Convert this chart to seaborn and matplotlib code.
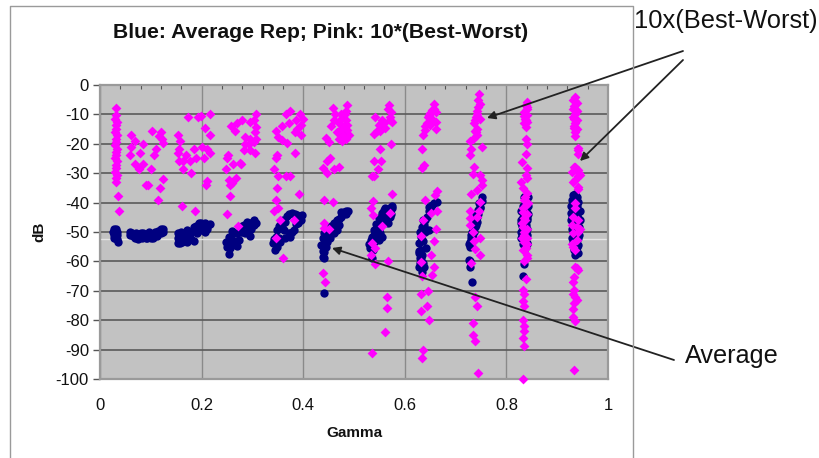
import matplotlib
matplotlib.use('Agg')
import matplotlib.pyplot as plt
from matplotlib.lines import Line2D
from matplotlib.ticker import MultipleLocator
import pandas as pd
import seaborn as sns

# 粉色点 10*(Best-Worst)，按 gamma 分组
pink_gamma = [
    .032, .032, .030, .033, .031, .032, .030, .033, .031, .032, .030, .033, .031, .032, .030, .033, .031, .032, .030, .033, .031, .032, .035, .037,
    .062, .068, .061, .085, .078, .060, .068, .085, .076, .102, .116, .120, .122, .125, .110, .107, .100, .125, .091, .094, .118, .114,
    .154, .158, .155, .154, .155, .164, .177, .170, .185, .164, .180, .189, .205, .200, .211, .216, .216, .207, .173, .193, .199, .216, .211, .209, .162, .187,
    .257, .266, .270, .280, .307, .303, .296, .307, .305, .286, .307, .296, .303, .286, .293, .283, .296, .306, .252, .250, .262, .275, .278, .249, .254, .267, .260, .256, .255, .250, .271,
    .375, .366, .393, .399, .385, .372, .359, .395, .383, .388, .347, .396, .350, .359, .368, .384, .348, .346, .343, .350, .366, .375, .348, .392, .346, .350, .342, .355, .382, .346, .361,
    .459, .486, .484, .462, .474, .484, .487, .454, .477, .467, .487, .444, .470, .484, .451, .477, .453, .446, .439, .446, .461, .470, .441, .459, .441, .440, .451, .439, .443,
    .470, .480, .478, .482, .460, .470, .490, .475,
    .569, .572, .542, .575, .556, .549, .562, .552, .539, .572, .552, .539, .554, .548, .536, .540, .575, .537, .534, .538, .571, .556, .536, .542, .534, .542, .567, .565, .565, .561, .536,
    .567, .570, .553, .560, .570, .546,
    .657, .653, .648, .661, .661, .644, .661, .639, .636, .634, .638, .633, .663, .639, .651, .663, .635, .661, .631, .657, .651, .631, .658, .654, .633, .646, .631, .643, .631, .648, .636, .634,
    .658, .650, .645, .655, .650, .640, .660,
    .747, .749, .743, .749, .740, .736, .742, .743, .735, .729, .751, .730, .729, .736, .735, .749, .751, .751, .743, .730, .748, .729, .746, .729, .743, .729, .735, .749, .736, .738, .748, .730, .738, .742, .734, .735, .738, .745,
    .745, .745, .742, .738, .739, .740,
    .840, .838, .841, .835, .841, .836, .841, .838, .835, .838, .840, .839, .830, .841, .838, .828, .841, .832, .841, .835, .838, .832, .834, .832, .835, .834, .838, .841, .838, .832, .835, .832, .834, .832, .835, .834, .832, .834, .832,
    .840, .835, .838, .836, .842, .832, .840, .836, .830, .840, .834, .830, .840, .840, .832, .840, .834,
    .935, .936, .934, .937, .935, .933, .936, .934, .936, .935, .940, .941, .933, .943, .935, .941, .935, .932, .939, .932, .939, .932, .935, .939, .933, .931, .933, .935, .933, .932, .935, .933,
    .932, .938, .932, .938, .932, .938, .934, .938, .940, .935, .940, .930, .945, .940, .932, .940, .935, .940, .930, .945, .940, .930, .935, .940, .932, .938, .932,
]
pink_db = [
    -7.7, -10.3, -11.4, -12.5, -13.7, -14.8, -15.9, -17, -18.2, -19.3, -20.4, -21.6, -22.7, -23.9, -25, -26, -27.3, -28.4, -29.5, -30.6, -31.8, -33, -37.8, -43,
    -16.9, -19, -21, -19.9, -23, -23.8, -26.9, -26.9, -28.7, -15.8, -17.2, -16, -18.2, -19.7, -21.8, -23.9, -28.7, -31.9, -33.9, -33.9, -35, -39,
    -16.9, -19, -21.6, -23, -26, -26, -26, -23.8, -21.7, -28.7, -30, -24.9, -25, -21, -21.7, -23, -17, -14.7, -10.9, -10.9, -10.6, -10, -32.7, -34, -41, -43,
    -14, -15.8, -12.8, -12, -10, -12, -12.6, -14.3, -16, -17.6, -18.2, -18.2, -19.3, -19.9, -20, -22, -22.2, -23, -23.9, -25, -26.9, -26.5, -27, -28.7, -32.4, -31.8, -33.5, -34, -37.8, -44, -48,
    -8.8, -10, -10, -11.4, -12, -12.8, -14, -13.7, -16, -14.8, -15.7, -17, -17.6, -18.8, -19.7, -23, -23.9, -25, -28.7, -30.8, -30.8, -30.8, -35, -37, -39, -42, -43, -46, -46, -52, -59,
    -7.7, -6.9, -9, -10, -11.4, -12, -13.7, -14, -14.8, -16, -15.4, -17.9, -18.2, -18.2, -19.3, -19, -25, -26, -28.2, -30, -28.7, -28, -39, -39.7, -46.8, -48.8, -49, -64, -67,
    -13, -14, -17, -10, -12, -15.5, -17, -10,
    -6.9, -9.2, -10.9, -12.6, -12, -13.7, -14.5, -15.6, -16.5, -19.9, -21.8, -25.8, -25.8, -28.7, -30.8, -30.8, -37, -39.4, -42, -44.2, -43.4, -48, -53.8, -55.5, -57.8, -61, -60, -72, -76, -84, -91,
    -8, -11, -13, -13, -12, -15.5,
    -6.3, -8.6, -10.3, -9.2, -12.6, -13, -14.8, -15.2, -17, -21.6, -27.3, -28.2, -36, -39, -43.7, -42.8, -46, -48.9, -51.2, -53.2, -57.8, -60.3, -61.8, -64.6, -65, -70, -71, -75, -77, -80, -90, -93,
    -8, -9.5, -11, -12, -13.5, -14, -37.5,
    -3, -6.3, -8.8, -11.4, -10.9, -13, -14.8, -17, -18.2, -19, -21, -21.7, -23.8, -28, -30.3, -30.7, -32.4, -34, -35.7, -37, -39.7, -43, -43, -45.4, -44.8, -47.6, -49.9, -52, -53, -55.8, -57.8, -60.4, -72, -75, -80.9, -85, -87.2, -98,
    -5, -7.5, -10, -12, -15.5, -16,
    -5.8, -6.9, -8, -9.2, -10.3, -11.4, -12.6, -14.3, -13, -18.2, -19.9, -23.6, -26.1, -28.4, -30.7, -32.9, -31.8, -35.2, -36.9, -39.1, -40.8, -43.1, -45.4, -48.2, -51, -53.3, -55.5, -57.8, -66, -69.7, -71, -73.6, -75.3, -79.9, -81.9, -83.8, -85.9, -88.9, -100,
    -7.5, -10.5, -12, -38, -40, -42, -44, -46, -47, -49, -50, -52, -52, -54, -56, -59, -60,
    -4, -5.5, -7, -8.5, -10, -11.5, -13, -14.5, -16, -17.5, -21.3, -23.5, -27.8, -30, -32.4, -34.6, -40.3, -44.8, -48.2, -50.5, -52.7, -55, -61.8, -62.3, -65.2, -67, -69.7, -72, -74.2, -76.2, -80.4, -96.8,
    -5, -6, -8, -9, -11, -12, -14, -15, -22, -28, -29, -29.5, -30.5, -31, -33, -35.5, -42, -46, -47.5, -49, -50, -54, -56, -63, -71, -73, -79,
]

# 蓝色点 Average Rep
blue_gamma = [
    .028, .032, .028, .031, .027, .033, .029, .033, .036, .030, .026, .030, .034, .027,
    .059, .060, .064, .068, .072, .072, .078, .082, .088, .090, .094, .096, .100, .100, .105, .110, .112, .117, .120, .125, .125, .120,
    .063, .070, .080, .085, .075, .092, .105, .108, .115,
    .153, .153, .153, .162, .172, .186, .162, .172, .178, .185, .191, .198, .194, .204, .216, .207, .198, .207,
    .158, .165, .180, .168, .160, .175, .182, .188, .200, .212, .210, .158,
    .254, .250, .249, .254, .260, .250, .260, .270, .273, .280, .286, .283, .293, .296, .303, .307, .290, .296, .270, .303,
    .255, .258, .265, .262, .275, .280, .288, .298, .300,
    .344, .341, .346, .349, .355, .361, .369, .378, .388, .398, .395, .385, .382, .372, .375, .365, .355, .362, .365, .359, .346, .349,
    .343, .352, .358, .373, .383, .393, .390, .378, .352,
    .440, .438, .441, .436, .444, .438, .447, .441, .451, .457, .464, .467, .474, .480, .488, .484, .470, .461, .474, .466,
    .440, .442, .445, .450, .455, .460, .470, .478, .485, .438, .440, .447, .452,
    .572, .562, .575, .556, .549, .543, .571, .566, .559, .552, .543, .536, .549, .556, .533, .531, .536, .539, .540, .569,
    .567, .560, .553, .548, .543, .550, .545, .540, .535, .538, .530, .572, .560, .575,
    .663, .654, .651, .644, .636, .634, .643, .648, .632, .628, .631, .641, .629, .628, .634, .638, .630, .634,
    .658, .648, .640, .638, .630, .635, .628, .632, .627, .636, .648, .640,
    .751, .746, .744, .742, .740, .730, .729, .735, .729, .726, .728, .732, .748, .743, .738,
    .752, .748, .745, .741, .737, .733, .730, .727, .736, .728, .740,
    .839, .838, .841, .828, .838, .832, .841, .828, .838, .830, .838, .828, .835, .841, .835, .832,
    .835, .843, .832, .842, .830, .842, .829, .840, .830, .840, .830, .840, .832, .840, .836, .828,
    .935, .930, .940, .932, .940, .930, .940, .933, .943, .935, .940, .932, .939, .935,
    .932, .938, .928, .938, .945, .928, .938, .945, .932, .928, .940, .930, .942, .930, .940, .933, .940,
]
blue_db = [
    -49, -49, -50, -50.5, -51, -51, -52, -52.3, -53.4, -50, -50, -49.5, -50, -52,
    -50, -51, -51.5, -52, -51, -52, -51.3, -52, -51, -52, -51, -50, -52, -50.8, -51, -50.5, -51.4, -50, -49, -49, -50, -50.5,
    -50.3, -50.5, -50.5, -50.5, -52.3, -52.2, -52, -49.9, -49.5,
    -50.5, -52, -53.6, -53.3, -53.3, -53, -51, -49.3, -50.5, -48.2, -50.5, -49.3, -47, -48.2, -47.3, -49.9, -46.8, -47,
    -52, -52.5, -52.5, -50.5, -50, -51, -49.5, -48, -48.5, -47.5, -49, -53.6,
    -57.5, -55, -53.3, -51.6, -49.7, -53.8, -54.4, -54.8, -52.7, -49.9, -50.5, -47.6, -48.2, -47, -46, -47, -46.5, -51.4, -50.5, -47.6,
    -55.5, -52.5, -53, -50.5, -50, -48, -47.5, -49, -47,
    -56, -53.8, -51.6, -49.3, -47.6, -46, -44.5, -43.7, -44.2, -44.2, -46, -47.3, -49.3, -50.5, -51.6, -52.1, -53.3, -49.3, -46.5, -48.2, -53.3, -55,
    -52.5, -48, -46.8, -44, -43.8, -44.5, -47, -50, -52,
    -70.9, -58.6, -56.7, -54.4, -55, -52.1, -53.3, -50.5, -51.6, -49.9, -47.6, -46, -44.8, -43.1, -42.8, -43.9, -47.6, -50.5, -43.1, -49.3,
    -52, -53.5, -51, -50, -48, -47, -45.5, -44, -43, -56.5, -59, -50.5, -52,
    -41.4, -42, -41.2, -43.7, -45.4, -47.3, -44.8, -47, -42.5, -50.5, -50.5, -51.6, -52.7, -51.6, -52.7, -55.5, -59, -49.3, -53.3, -43,
    -43.5, -44.5, -46, -48, -49, -49.5, -52, -51, -53.5, -56, -54, -44, -47, -42,
    -39.7, -40.8, -42.5, -44.8, -45.9, -48.2, -49.3, -49.3, -51.6, -53.8, -56, -55.5, -59, -61.8, -63.5, -61.8, -60.6, -57.8,
    -40, -43, -46, -47.5, -50, -53, -56.5, -59, -57, -60.5, -41.5, -50,
    -38, -40.3, -42.5, -44.8, -47.6, -51, -53.3, -52.1, -55, -59.5, -61.8, -66.9, -41.4, -46.5, -48.2,
    -39.5, -42, -44, -46, -46.5, -50, -52, -54, -50, -60, -44,
    -37.4, -39.1, -40.3, -43, -42.5, -44.8, -45.4, -47, -47.6, -49.9, -50.5, -52.1, -53.3, -53.8, -61, -65,
    -38, -38, -41, -41, -43, -44, -46, -46, -48, -49, -51, -51, -54, -54, -55.5, -50,
    -37, -39, -39.7, -42, -42.5, -44.8, -45.4, -47.6, -48.2, -50.5, -52.1, -53.3, -55, -57.8,
    -37.5, -38, -41, -41, -43, -43.5, -44, -46, -47, -46, -49, -49, -51, -52, -54.5, -56, -57,
]

x_ticks = [0, 0.2, 0.4, 0.6, 0.8, 1]
x_labels = ['0', '0.2', '0.4', '0.6', '0.8', '1']
y_ticks = [0, -10, -20, -30, -40, -50, -60, -70, -80, -90, -100]
y_labels = ['0', '-10', '-20', '-30', '-40', '-50', '-60', '-70', '-80', '-90', '-100']

sns.set_theme(style='white')
plt.rcParams['font.family'] = ['Liberation Sans', 'DejaVu Sans']

W, H = 820, 458
fig = plt.figure(figsize=(W / 100, H / 100), dpi=100)
ax = fig.add_axes([100 / W, 1 - 379 / H, 508 / W, 294 / H])
ax.set_facecolor('#c2c2c2')

blue_df = pd.DataFrame({'gamma': blue_gamma, 'db': blue_db})
pink_df = pd.DataFrame({'gamma': pink_gamma, 'db': pink_db})
sns.scatterplot(data=blue_df, x='gamma', y='db', ax=ax, color='#000080', marker='o',
                s=36, linewidth=0, clip_on=False, zorder=3)
sns.scatterplot(data=pink_df, x='gamma', y='db', ax=ax, color='#ff00ff', marker='D',
                s=25, linewidth=0, clip_on=False, zorder=4)

ax.set_xlim(0, 1)
ax.set_ylim(-100, 0)
ax.set_xticks(x_ticks)
ax.set_xticklabels(x_labels, fontsize=12)
ax.set_yticks(y_ticks)
ax.set_yticklabels(y_labels, fontsize=12)
ax.xaxis.set_minor_locator(MultipleLocator(0.04))
ax.tick_params(axis='x', which='major', length=0, pad=14, colors='#111111')
ax.tick_params(axis='x', which='minor', top=True, bottom=False, direction='in', length=3, width=0.8, color='#555555')
ax.tick_params(axis='y', which='major', left=True, length=5, width=1, color='#555555', pad=3, labelcolor='#111111')
ax.grid(axis='y', color='#5a5a5a', linewidth=1.2, zorder=1)
ax.grid(axis='x', color='#8a8a8a', linewidth=1, zorder=1)
ax.set_axisbelow(True)
ax.axhline(-52.5, color='#e4e4e4', linewidth=1, zorder=2)
for side in ['top', 'bottom', 'left', 'right']:
    ax.spines[side].set_color('#9a9a9a')
    ax.spines[side].set_linewidth(1.6)

ax.set_xlabel('Gamma', fontsize=11, fontweight='bold', labelpad=9, color='#111111')
ax.set_ylabel('dB', fontsize=11, fontweight='bold', labelpad=7, color='#111111')
fig.text(321 / W, 1 - 33 / H, 'Blue: Average Rep; Pink: 10*(Best-Worst)', ha='center', va='center',
         fontsize=15.2, fontweight='bold', color='#111111')

# 外框
fig.add_artist(Line2D([10 / W, 10 / W, 633 / W, 633 / W], [0, 1 - 6 / H, 1 - 6 / H, 0],
                      color='#9a9a9a', linewidth=1))

# 右侧标注
fig.text(634 / W, 1 - 21 / H, '10x(Best-Worst)', ha='left', va='center', fontsize=18.4, color='#111111')
fig.text(685 / W, 1 - 356 / H, 'Average', ha='left', va='center', fontsize=18.2, color='#111111')


def arrow(start, end):
    ax.annotate('', xy=(end[0], H - end[1]), xytext=(start[0], H - start[1]),
                xycoords='figure pixels', textcoords='figure pixels', annotation_clip=False,
                arrowprops=dict(arrowstyle='-|>', color='#222222', lw=1.3, mutation_scale=12,
                                shrinkA=0, shrinkB=0), zorder=6)


arrow((683, 51), (487, 118))
arrow((683, 60), (580, 161))
arrow((674, 360), (332, 248))

fig.savefig('out.png', dpi=100)
